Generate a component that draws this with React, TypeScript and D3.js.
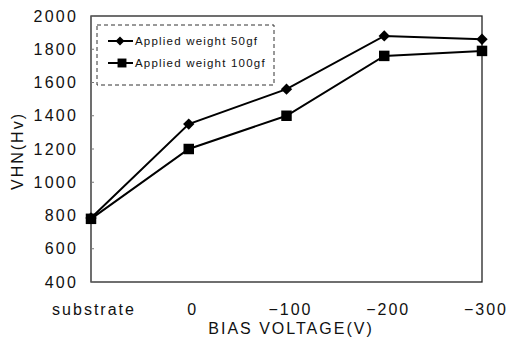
import React from "react";
import * as d3 from "d3";

const categories = ["substrate", "0", "\u2212100", "\u2212200", "\u2212300"];
const weight50 = [785, 1350, 1560, 1880, 1860];
const weight100 = [780, 1200, 1400, 1760, 1790];
const yTicks = [400, 600, 800, 1000, 1200, 1400, 1600, 1800, 2000];
const seriesNames = ["Applied weight 50gf", "Applied weight 100gf"];

export default function App() {
    const width = 517;
    const height = 338;
    const marginLeft = 91;
    const marginRight = 35;
    const marginTop = 16;
    const marginBottom = 56;

    const xScale = d3.scalePoint<string>()
        .domain(categories)
        .range([marginLeft, width - marginRight])
        .padding(0);

    const yScale = d3.scaleLinear()
        .domain([400, 2000])
        .range([height - marginBottom, marginTop]);

    const line = d3.line<number>()
        .x((d, i) => xScale(categories[i]) as number)
        .y(d => yScale(d));

    const font = "Liberation Sans, Arial, sans-serif";
    // diamond drawn as a rotated square, like the original markers
    const diamond = d3.symbol(d3.symbolSquare, 64)();
    const square = d3.symbol(d3.symbolSquare, 110)();

    return (
        <svg width={width} height={height} style={{ position: "absolute", left: 0, top: 0, background: "#fff" }}>
            {/* frame */}
            <rect x={marginLeft} y={marginTop} width={width - marginLeft - marginRight}
                height={height - marginTop - marginBottom} fill="none" stroke="#222" strokeWidth={1.3} />

            {/* y ticks */}
            {yTicks.map(t => (
                <g key={t}>
                    <line x1={marginLeft} x2={marginLeft + 3} y1={yScale(t)} y2={yScale(t)} stroke="#777" />
                    <text x={78} y={yScale(t)} dy="0.35em" textAnchor="end" fontSize={16} letterSpacing={2.2}
                        fontFamily={font} fill="#111">{t}</text>
                </g>
            ))}

            {/* x labels */}
            {categories.map(c => (
                <text key={c} x={(xScale(c) as number) + (c === "substrate" ? 3 : 4)} y={309} dy="0.35em" textAnchor="middle"
                    fontSize={16} letterSpacing={2} fontFamily={font} fill="#111">{c}</text>
            ))}

            <text x={291} y={328} dy="0.35em" textAnchor="middle" fontSize={16} letterSpacing={2}
                fontFamily={font} fill="#111">BIAS VOLTAGE(V)</text>
            <text transform={`translate(17,151) rotate(-90)`} dy="0.35em" textAnchor="middle" fontSize={16}
                letterSpacing={2} fontFamily={font} fill="#111">VHN(Hv)</text>

            {/* series */}
            <path d={line(weight100) as string} fill="none" stroke="#000" strokeWidth={2} />
            <path d={line(weight50) as string} fill="none" stroke="#000" strokeWidth={2} />
            {weight50.map((v, i) => (
                <path key={"a" + i} d={diamond as string} fill="#000"
                    transform={`translate(${xScale(categories[i])},${yScale(v)}) rotate(45)`} />
            ))}
            {weight100.map((v, i) => (
                <path key={"b" + i} d={square as string} fill="#000"
                    transform={`translate(${xScale(categories[i])},${yScale(v)})`} />
            ))}

            {/* legend */}
            <rect x={97} y={25} width={177} height={60} fill="#fff" stroke="#333" strokeWidth={1} strokeDasharray="4,3" />
            {seriesNames.map((name, i) => {
                const y = 41 + i * 22;
                return (
                    <g key={name}>
                        <line x1={108} x2={133} y1={y} y2={y} stroke="#000" strokeWidth={2} />
                        <path d={(i === 0 ? diamond : square) as string} fill="#000"
                            transform={`translate(${i === 0 ? 120 : 122},${y})${i === 0 ? " rotate(45) scale(0.8)" : " scale(0.85)"}`} />
                        <text x={135} y={y} dy="0.35em" fontSize={11.5} letterSpacing={1.2} fontFamily={font} fill="#111">{name}</text>
                    </g>
                );
            })}
        </svg>
    );
}
